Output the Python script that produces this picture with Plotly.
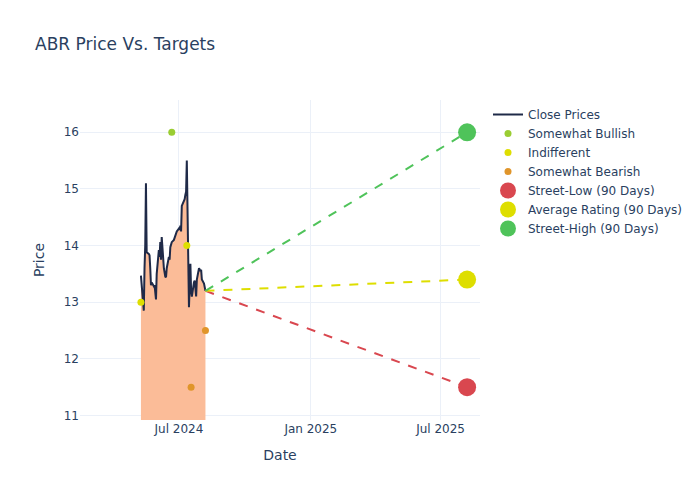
import pandas as pd
import plotly.graph_objects as go

close_start = "2024-05-09"
close_prices = [
    13.47, 13.30, 12.85, 13.60, 14.00, 15.10, 13.88, 13.85, 13.83, 13.60,
    13.30, 13.35, 13.28, 13.30, 13.20, 13.05, 13.50, 13.92, 13.80, 14.06,
    13.75, 14.15, 13.60, 13.50, 13.45, 13.44, 13.60, 13.80, 13.75, 13.97,
    14.00, 14.06, 14.10, 14.15, 14.18, 14.20, 14.25, 14.30, 14.28, 14.35,
    14.25, 14.70, 14.78, 14.82, 14.90, 14.95, 15.50, 12.91, 13.30, 13.68,
    13.20, 13.10, 13.35, 13.38, 13.25, 13.10, 13.40, 13.60, 13.58, 13.55,
    13.57, 13.40, 13.33, 13.22, 13.20,
]
close_dates = pd.bdate_range(close_start, periods=len(close_prices))

bullish_dates = ["2024-06-21"]
bullish_values = [16.0]
indifferent_dates = ["2024-05-09", "2024-07-12"]
indifferent_values = [13.0, 14.0]
bearish_dates = ["2024-07-18", "2024-08-07"]
bearish_values = [11.5, 12.5]

target_date = "2025-08-07"
street_low = 11.5
average_rating = 13.4
street_high = 16.0

last_date = close_dates[-1]
last_close = close_prices[-1]

fig = go.Figure()
fig.add_trace(go.Scatter(
    x=close_dates, y=close_prices, mode="lines", showlegend=False, hoverinfo="skip",
    line=dict(width=0), fill="tozeroy", fillcolor="#fbbc98",
))
fig.add_trace(go.Scatter(
    x=close_dates, y=close_prices, mode="lines", name="Close Prices",
    line=dict(color="#1f2a48", width=2),
))
fig.add_trace(go.Scatter(x=bullish_dates, y=bullish_values, mode="markers",
                         name="Somewhat Bullish", marker=dict(color="#9acd32", size=7)))
fig.add_trace(go.Scatter(x=indifferent_dates, y=indifferent_values, mode="markers",
                         name="Indifferent", marker=dict(color="#dede00", size=7)))
fig.add_trace(go.Scatter(x=bearish_dates, y=bearish_values, mode="markers",
                         name="Somewhat Bearish", marker=dict(color="#e0952a", size=7)))

for name, val, color in [("Street-Low (90 Days)", street_low, "#d9474f"),
                         ("Average Rating (90 Days)", average_rating, "#dede00"),
                         ("Street-High (90 Days)", street_high, "#4fc35a")]:
    fig.add_trace(go.Scatter(x=[last_date, target_date], y=[last_close, val],
                             mode="lines", line=dict(color=color, dash="dash", width=2),
                             showlegend=False, hoverinfo="skip"))
    fig.add_trace(go.Scatter(x=[target_date], y=[val], mode="markers", name=name,
                             marker=dict(color=color, size=18)))

fig.update_layout(
    template="plotly_white",
    font=dict(family="DejaVu Sans"),
    margin=dict(l=72, r=212, t=92, b=72, autoexpand=False),
    title=dict(text="ABR Price Vs. Targets", x=0.0395, y=0.9256, yanchor="middle"),
    xaxis=dict(title="Date", range=["2024-02-14", "2025-08-25"], dtick="M6",
               tick0="2024-01-01", tickformat="%b %Y"),
    yaxis=dict(title="Price", range=[10.92, 16.57]),
)
fig.write_html("out.html")
